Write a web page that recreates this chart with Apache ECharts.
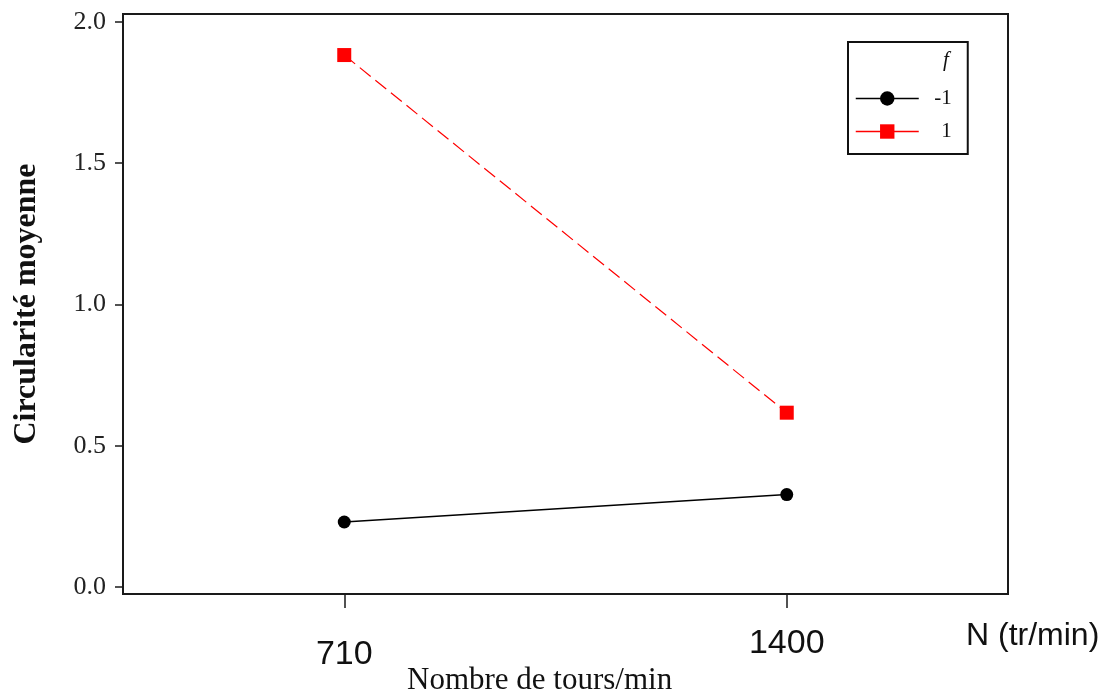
<!DOCTYPE html>
<html>
<head>
<meta charset="utf-8">
<script src="https://cdn.jsdelivr.net/npm/echarts@6/dist/echarts.min.js"></script>
<style>
  html, body { margin: 0; padding: 0; background: #fff; }
  #chart { width: 1106px; height: 696px; }
</style>
</head>
<body>
<div id="chart"></div>
<script>
// Rotation speed levels (tr/min)
const categories = ['710', '1400'];
// Mean circularity for feed level f = -1 and f = 1
const circMinus1 = [0.230, 0.327];
const circPlus1 = [1.883, 0.617];
// Y tick values
const yTicks = [0, 0.5, 1, 1.5, 2];
const yTickLabels = ['0.0', '0.5', '1.0', '1.5', '2.0'];

const serif = "'Liberation Serif', 'DejaVu Serif', serif";
const sans = "'Liberation Sans', Arial, sans-serif";

const chart = echarts.init(document.getElementById('chart'), null, { renderer: 'canvas' });

chart.setOption({
  animation: false,
  backgroundColor: '#ffffff',
  grid: {
    left: 123, right: 98, top: 14, bottom: 102,
    show: true, borderColor: '#1a1a1a', borderWidth: 2,
    containLabel: false
  },
  xAxis: {
    type: 'category',
    data: categories,
    boundaryGap: true,
    axisLine: { show: true, onZero: false, lineStyle: { color: '#1a1a1a', width: 2 } },
    axisTick: { show: true, alignWithLabel: true, length: 14, lineStyle: { color: '#1a1a1a', width: 1.5 } },
    axisLabel: {
      margin: 33,
      formatter: function (v, i) { return i === 0 ? '{lo|' + v + '}' : '{hi|' + v + '}'; },
      rich: {
        lo: { fontFamily: sans, fontSize: 34, color: '#111', padding: [11, 0, 0, 0] },
        hi: { fontFamily: sans, fontSize: 34, color: '#111' }
      }
    },
    splitLine: { show: false }
  },
  yAxis: {
    type: 'value',
    min: -0.0248,
    max: 2.0283,
    name: 'Circularité moyenne',
    nameLocation: 'middle',
    nameGap: 80,
    nameRotate: 90,
    nameTextStyle: { fontFamily: serif, fontWeight: 'bold', fontSize: 32, color: '#111' },
    axisLine: { show: true, lineStyle: { color: '#1a1a1a', width: 2 } },
    axisTick: { show: true, length: 8, customValues: yTicks, lineStyle: { color: '#1a1a1a', width: 1.5 } },
    axisLabel: {
      margin: 17, fontFamily: serif, fontSize: 26, color: '#222',
      customValues: yTicks,
      formatter: function (v) {
        const i = yTicks.findIndex(function (t) { return Math.abs(t - v) < 1e-6; });
        return i >= 0 ? yTickLabels[i] : '';
      }
    },
    splitLine: { show: false }
  },
  legend: {
    show: true,
    orient: 'vertical',
    left: 848,
    top: 42,
    padding: [46, 16, 12, 7],
    itemGap: 12,
    itemWidth: 63,
    itemHeight: 18,
    borderColor: '#111',
    borderWidth: 2,
    backgroundColor: '#fff',
    z: 4,
    data: ['-1', '1'],
    lineStyle: { type: 'solid', width: 1.5 },
    formatter: function (name) { return '{t|' + name + '}'; },
    textStyle: {
      padding: [0, 0, 0, 10],
      rich: { t: { width: 18, align: 'right', fontFamily: serif, fontSize: 21, color: '#111' } }
    }
  },
  graphic: [
    { type: 'text', left: 943, top: 50, z: 100,
      style: { text: 'f', fontFamily: serif, fontStyle: 'italic', fontSize: 21, fill: '#111' } },
    { type: 'text', left: 966, top: 620,
      style: { text: 'N (tr/min)', fontFamily: sans, fontSize: 32, fill: '#111' } },
    { type: 'text', left: 407, top: 665,
      style: { text: 'Nombre de tours/min', fontFamily: serif, fontSize: 31, fill: '#111' } }
  ],
  series: [
    {
      name: '-1',
      type: 'line',
      data: circMinus1,
      symbol: 'circle',
      symbolSize: 13,
      itemStyle: { color: '#000' },
      lineStyle: { color: '#000', width: 1.5, type: 'solid' },
      z: 3
    },
    {
      name: '1',
      type: 'line',
      data: circPlus1,
      symbol: 'rect',
      symbolSize: 14,
      itemStyle: { color: '#ff0000' },
      lineStyle: { color: '#ff0000', width: 1.2, type: [14, 6] },
      z: 2
    }
  ]
});
</script>
</body>
</html>
